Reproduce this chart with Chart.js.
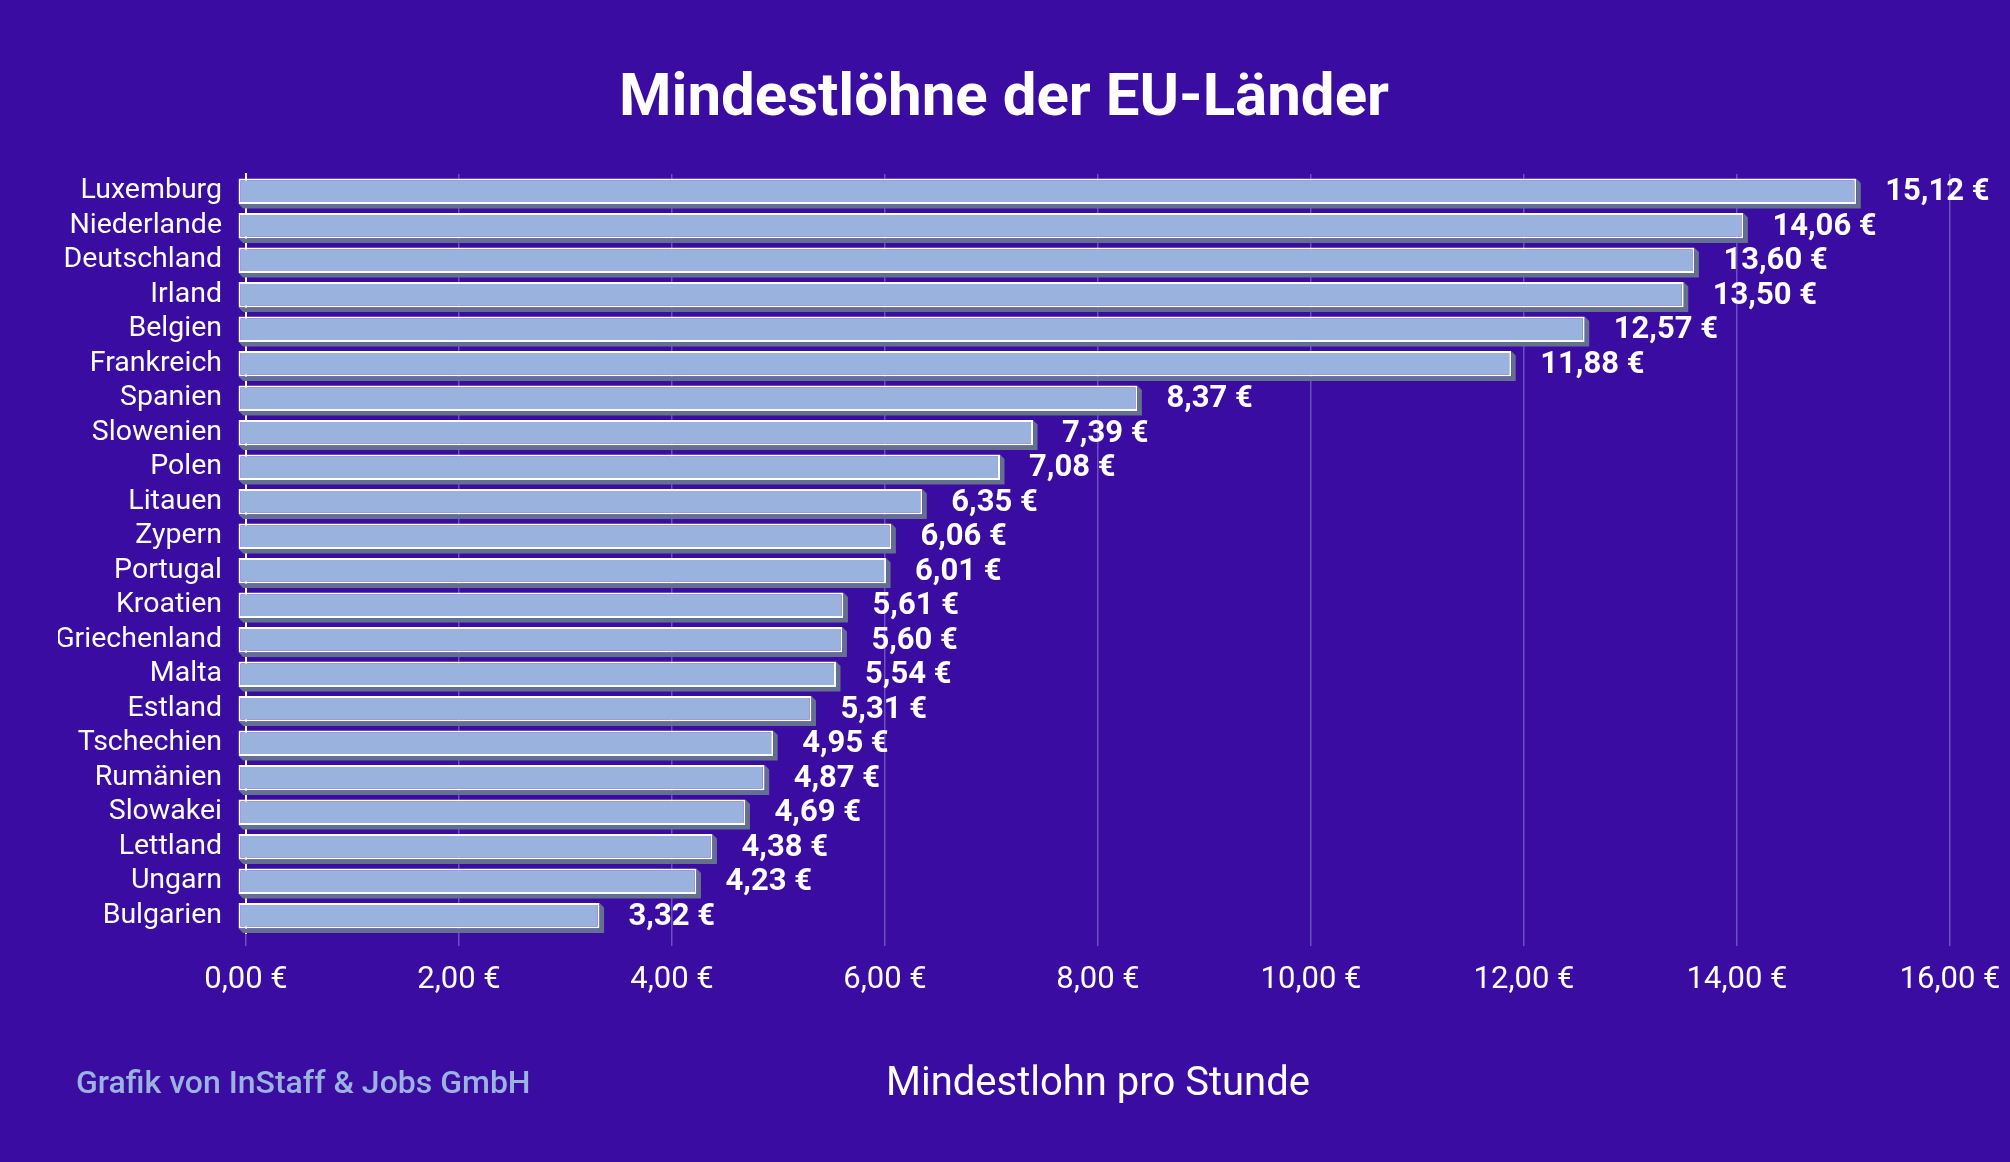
<!DOCTYPE html>
<html lang="de">
  <head>
    <meta charset="UTF-8" />
    <title>Mindestlöhne der EU-Länder</title>
    <script src="https://cdn.jsdelivr.net/npm/chart.js"></script>
    <style>
      body { margin: 0; background: #3a0ca2; }
      #wrap { position: relative; width: 2010px; height: 1162px; background: #3a0ca2; }
      #quelle {
        position: absolute; left: 76px; top: 1062px; line-height: 40px;
        font-family: Roboto, sans-serif; font-weight: 500; font-size: 32px; color: #9ab3df;
      }
    </style>
  </head>
  <body>
    <div id="wrap">
      <canvas id="lohnChart"></canvas>
      <div id="quelle">Grafik von InStaff &amp; Jobs GmbH</div>
    </div>

    <script>
      // Daten
      const laender = ["Luxemburg", "Niederlande", "Deutschland", "Irland", "Belgien", "Frankreich",
        "Spanien", "Slowenien", "Polen", "Litauen", "Zypern", "Portugal", "Kroatien", "Griechenland",
        "Malta", "Estland", "Tschechien", "Rumänien", "Slowakei", "Lettland", "Ungarn", "Bulgarien"];
      const mindestlohn = [15.12, 14.06, 13.60, 13.50, 12.57, 11.88, 8.37, 7.39, 7.08, 6.35, 6.06,
        6.01, 5.61, 5.60, 5.54, 5.31, 4.95, 4.87, 4.69, 4.38, 4.23, 3.32];
      const achseMax = 16;
      const achseSchritt = 2;

      const euro = (v) => v.toFixed(2).replace(".", ",") + " €";

      // 3D-Kante rechts/unten an jedem Balken
      const balkenSchatten = {
        id: "balkenSchatten",
        beforeDatasetsDraw(chart) {
          const ctx = chart.ctx;
          const d = 4.5;
          ctx.save();
          ctx.fillStyle = "#63708f";
          chart.getDatasetMeta(0).data.forEach((bar) => {
            const { x, y, base, height } = bar.getProps(["x", "y", "base", "height"], true);
            const top = y - height / 2, bottom = y + height / 2;
            ctx.beginPath();
            ctx.moveTo(base, bottom);
            ctx.lineTo(base + d, bottom + d);
            ctx.lineTo(x + d, bottom + d);
            ctx.lineTo(x + d, top + d);
            ctx.lineTo(x, top);
            ctx.lineTo(x, bottom);
            ctx.closePath();
            ctx.fill();
          });
          ctx.restore();
        },
      };

      const wertLabels = {
        id: "wertLabels",
        afterDatasetsDraw(chart) {
          const ctx = chart.ctx;
          ctx.save();
          ctx.font = "bold 31px Roboto";
          ctx.fillStyle = "#ffffff";
          ctx.textBaseline = "middle";
          chart.getDatasetMeta(0).data.forEach((bar, i) => {
            ctx.fillText(euro(mindestlohn[i]), bar.x + 29, bar.y + 1);
          });
          ctx.restore();
        },
      };

      const ctx = document.getElementById("lohnChart").getContext("2d");
      new Chart(ctx, {
        type: "bar",
        data: {
          labels: laender,
          datasets: [
            {
              label: "Mindestlohn",
              data: mindestlohn,
              base: -0.07,
              clip: false,
              backgroundColor: "#99b3de",
              borderColor: "#ffffff",
              borderWidth: 2,
              borderSkipped: false,
              barPercentage: 0.8,
              categoryPercentage: 0.92,
            },
          ],
        },
        plugins: [balkenSchatten, wertLabels],
        options: {
          indexAxis: "y",
          responsive: true,
          maintainAspectRatio: false,
          devicePixelRatio: 1,
          animation: false,
          layout: { padding: { left: 58, right: 60, top: 0, bottom: 0 } },
          plugins: {
            legend: { display: false },
            tooltip: { enabled: false },
            title: {
              display: true,
              text: "Mindestlöhne der EU-Länder",
              color: "#ffffff",
              font: { family: "Roboto", size: 60, weight: "bold" },
              padding: { top: 64, bottom: 38 },
            },
          },
          scales: {
            x: {
              min: 0,
              max: achseMax,
              afterFit(scale) {
                scale.height = 229;
                scale.paddingLeft = 0;
                scale.paddingRight = 0;
              },
              ticks: {
                stepSize: achseSchritt,
                color: "#ffffff",
                font: { family: "Roboto", size: 31 },
                padding: 16,
                callback: (v) => euro(v),
              },
              grid: { color: "#6b4fc4", lineWidth: 1.5, tickLength: 13 },
              border: { display: false },
              title: {
                display: true,
                text: "Mindestlohn pro Stunde",
                color: "#ffffff",
                font: { family: "Roboto", size: 40 },
                padding: { top: 53, bottom: 53 },
              },
            },
            y: {
              afterFit(scale) { scale.width = 188; },
              ticks: {
                color: "#ffffff",
                font: { family: "Roboto", size: 28.5 },
                padding: 16,
                autoSkip: false,
              },
              grid: { display: false },
              border: { display: true, color: "#ffffff", width: 2 },
            },
          },
        },
      });
    </script>
  </body>
</html>
